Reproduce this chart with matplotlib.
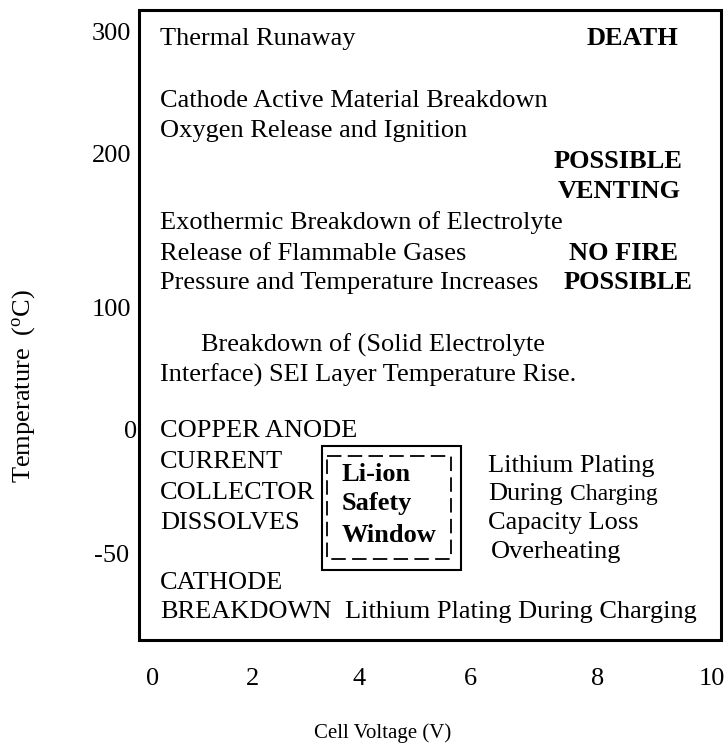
import matplotlib
matplotlib.use('Agg')
import matplotlib.pyplot as plt
from matplotlib.patches import Rectangle

plt.rcParams['font.family'] = ['Liberation Serif', 'DejaVu Serif']
plt.rcParams['mathtext.fontset'] = 'custom'
plt.rcParams['mathtext.rm'] = 'Liberation Serif'

# axis ticks (the original spacing is not linear, so each label has its own spot)
voltage_ticks = ['0', '2', '4', '6', '8', '10']
voltage_tick_x = [153, 253, 359, 470, 598, 712]
temp_ticks = ['300', '200', '100', '0', '-50']
temp_tick_y = [40, 162, 316, 438, 562]
temp_tick_right = [131, 131, 131, 137, 129]

# regular text lines
plain_lines = [
    'Thermal Runaway',
    'Cathode Active Material Breakdown',
    'Oxygen Release and Ignition',
    'Exothermic Breakdown of Electrolyte',
    'Release of Flammable Gases',
    'Pressure and Temperature Increases',
    'Breakdown of (Solid Electrolyte',
    'Interface) SEI Layer Temperature Rise.',
    'COPPER ANODE',
    'CURRENT',
    'COLLECTOR',
    'DISSOLVES',
    'CATHODE',
    'BREAKDOWN',
    'Lithium Plating During Charging',
    'Lithium Plating',
    'During',
    'Capacity Loss',
    'Overheating',
]
plain_x = [160, 160, 160, 160, 160, 160, 201, 160, 160, 160, 160, 160, 160, 160,
           345, 488, 488, 488, 491]
plain_y = [45, 107, 137, 229, 260, 289, 352, 382, 437, 468, 499, 529, 589, 618,
           618, 472, 500, 529, 558]

# bold warnings on the right
bold_lines = ['DEATH', 'POSSIBLE', 'VENTING', 'NO FIRE', 'POSSIBLE']
bold_x = [587, 554, 558, 569, 564]
bold_y = [45, 168, 198, 260, 289]

window_lines = ['Li-ion', 'Safety', 'Window']
window_y = [481, 510, 542]

fig = plt.figure(figsize=(7.25, 7.52), dpi=100)
ax = fig.add_axes([0, 0, 1, 1])
ax.set_xlim(0, 725)
ax.set_ylim(752, 0)
ax.axis('off')

fs = 19

# outer frame
ax.add_patch(Rectangle((139, 10), 582, 630, fill=False, lw=2.2, ec='black'))

for t, x, y in zip(plain_lines, plain_x, plain_y):
    ax.text(x, y, t, fontsize=fs, va='baseline', ha='left')
# 'Charging' is set a bit smaller in the source
ax.text(570, 500, 'Charging', fontsize=17, va='baseline', ha='left')

for t, x, y in zip(bold_lines, bold_x, bold_y):
    ax.text(x, y, t, fontsize=fs, fontweight='bold', va='baseline', ha='left')

# safety window box
ax.add_patch(Rectangle((322.5, 445.5), 139, 124.5, fill=False, lw=1.5, ec='black'))
ax.add_patch(Rectangle((327.5, 455.5), 124, 103, fill=False, lw=1.3, ec='black',
                       linestyle=(0, (8, 3.5))))
for t, y in zip(window_lines, window_y):
    ax.text(342, y, t, fontsize=fs, fontweight='bold', va='baseline', ha='left')

# tick labels
for t, x in zip(voltage_ticks, voltage_tick_x):
    ax.text(x, 685, t, fontsize=fs, va='baseline', ha='center')
for t, y, r in zip(temp_ticks, temp_tick_y, temp_tick_right):
    ax.text(r, y, t, fontsize=fs, va='baseline', ha='right')

ax.text(383, 738, 'Cell Voltage (V)', fontsize=15, va='baseline', ha='center')
ax.text(24, 386, r'Temperature  ($\mathrm{^o}$C)', fontsize=fs, rotation=90,
        va='center', ha='center')

fig.savefig('out.png', dpi=100)
